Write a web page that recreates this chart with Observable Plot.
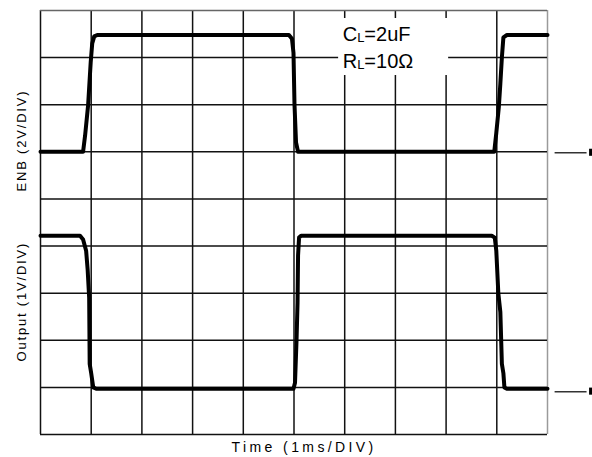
<!DOCTYPE html>
<html>
<head>
<meta charset="utf-8">
<script src="https://cdn.jsdelivr.net/npm/d3@7"></script>
<script src="https://cdn.jsdelivr.net/npm/@observablehq/plot@0.6"></script>
<style>
  html, body { margin: 0; padding: 0; background: #fff; }
  svg { display: block; }
</style>
</head>
<body>
<div id="chart"></div>
<script>
// Grid divisions (10 horizontal x 9 vertical)
const xTicks = [0, 1, 2, 3, 4, 5, 6, 7, 8, 9, 10];
const yTicks = [0, 1, 2, 3, 4, 5, 6, 7, 8, 9];

// ENB trace (time in divisions, level in divisions from the bottom)
const enbTime  = [0, 0.84, 0.88, 0.94, 0.99, 1.02, 1.06, 1.12, 4.90, 4.96, 4.99, 5.01, 5.04, 5.08, 8.95, 8.99, 9.04, 9.07, 9.10, 9.13, 9.20, 10];
const enbLevel = [6.0, 6.0, 6.35, 7.0, 7.9, 8.3, 8.45, 8.48, 8.48, 8.40, 8.10, 7.0, 6.2, 6.0, 6.0, 6.4, 6.95, 7.45, 8.0, 8.43, 8.48, 8.48];

// Output trace
const outTime  = [0, 0.78, 0.84, 0.90, 0.93, 0.96, 0.97, 1.00, 1.04, 1.10, 4.99, 5.02, 5.03, 5.05, 5.07, 5.08, 5.10, 5.14, 8.90, 8.96, 8.99, 9.03, 9.07, 9.10, 9.13, 9.15, 9.20, 10];
const outLevel = [4.22, 4.22, 4.14, 3.9, 3.5, 2.9, 1.5, 1.3, 1.0, 0.97, 0.97, 1.1, 1.4, 2.0, 2.8, 3.8, 4.18, 4.22, 4.22, 4.18, 3.9, 3.0, 2.6, 1.5, 1.3, 1.0, 0.97, 0.97];

// Ground reference markers on the right edge
const groundLevels = [5.98, 0.91];

// Texts
const channelLabels = ["ENB (2V/DIV)", "Output (1V/DIV)"];
const channelLabelLevels = [6.24, 2.82];
const xLabel = "Time (1ms/DIV)";
const annotationLines = ["CL=2uF", "RL=10Ω"];

const enb = enbTime.map((t, i) => ({t, v: enbLevel[i]}));
const out = outTime.map((t, i) => ({t, v: outLevel[i]}));
const chLabels = channelLabels.map((s, i) => ({s, y: channelLabelLevels[i]}));

const font = "Arial, 'Liberation Sans', Helvetica, sans-serif";

const chart = Plot.plot({
  width: 592,
  height: 457,
  marginLeft: 40,
  marginRight: 45,
  marginTop: 10,
  marginBottom: 23,
  x: {domain: [0, 10], axis: null},
  y: {domain: [0, 9], axis: null},
  style: {background: "#fff", fontFamily: font, color: "#000"},
  marks: [
    Plot.ruleX(xTicks.filter(d => d < 10), {stroke: "#111", strokeWidth: 1.5}),
    Plot.ruleX([10], {stroke: "#9a9a9a", strokeWidth: 1.5}),
    Plot.ruleY(yTicks.filter(d => d < 9), {stroke: "#111", strokeWidth: 1.5}),
    Plot.ruleY([9], {stroke: "#666", strokeWidth: 1.5}),
    Plot.rect([0], {x1: 5.88, x2: 8.05, y1: 7.62, y2: 8.83, fill: "#fff"}),
    Plot.line(enb, {x: "t", y: "v", stroke: "#000", strokeWidth: 4, strokeLinejoin: "round"}),
    Plot.line(out, {x: "t", y: "v", stroke: "#000", strokeWidth: 4, strokeLinejoin: "round"}),
    Plot.ruleY(groundLevels, {x1: 10.15, x2: 10.78, stroke: "#333", strokeWidth: 1.5}),
    Plot.rect(groundLevels, {x1: 10.83, x2: 10.98, y1: d => d - 0.075, y2: d => d + 0.075, fill: "#000"}),
    Plot.text(annotationLines, {x: 5.96, y: [8.36, 7.77], text: d => d, textAnchor: "start", lineAnchor: "bottom", fontSize: 20, fill: "#000"}),
    Plot.text(chLabels, {x: -0.37, y: "y", text: "s", rotate: -90, fontSize: 13, fill: "#000"}),
    Plot.text([xLabel], {x: 5.2, y: -0.38, text: d => d, fontSize: 14, lineAnchor: "bottom", fill: "#000"})
  ]
});

document.getElementById("chart").appendChild(chart);

const svg = d3.select(chart);
// subscripts on annotation lines, spacing on axis labels
svg.selectAll("text").each(function() {
  const t = this.textContent;
  const sel = d3.select(this);
  if (annotationLines.includes(t)) {
    const head = t.slice(0, 1), sub = t.slice(1, 2), rest = t.slice(2);
    sel.text(null);
    sel.append("tspan").text(head);
    sel.append("tspan").attr("font-size", 13).attr("dy", 1).text(sub);
    sel.append("tspan").attr("dy", -1).text(rest);
  } else if (channelLabels.includes(t)) {
    sel.style("letter-spacing", "1.8px");
  } else if (t === xLabel) {
    sel.style("letter-spacing", "3.4px");
  }
});
</script>
</body>
</html>
